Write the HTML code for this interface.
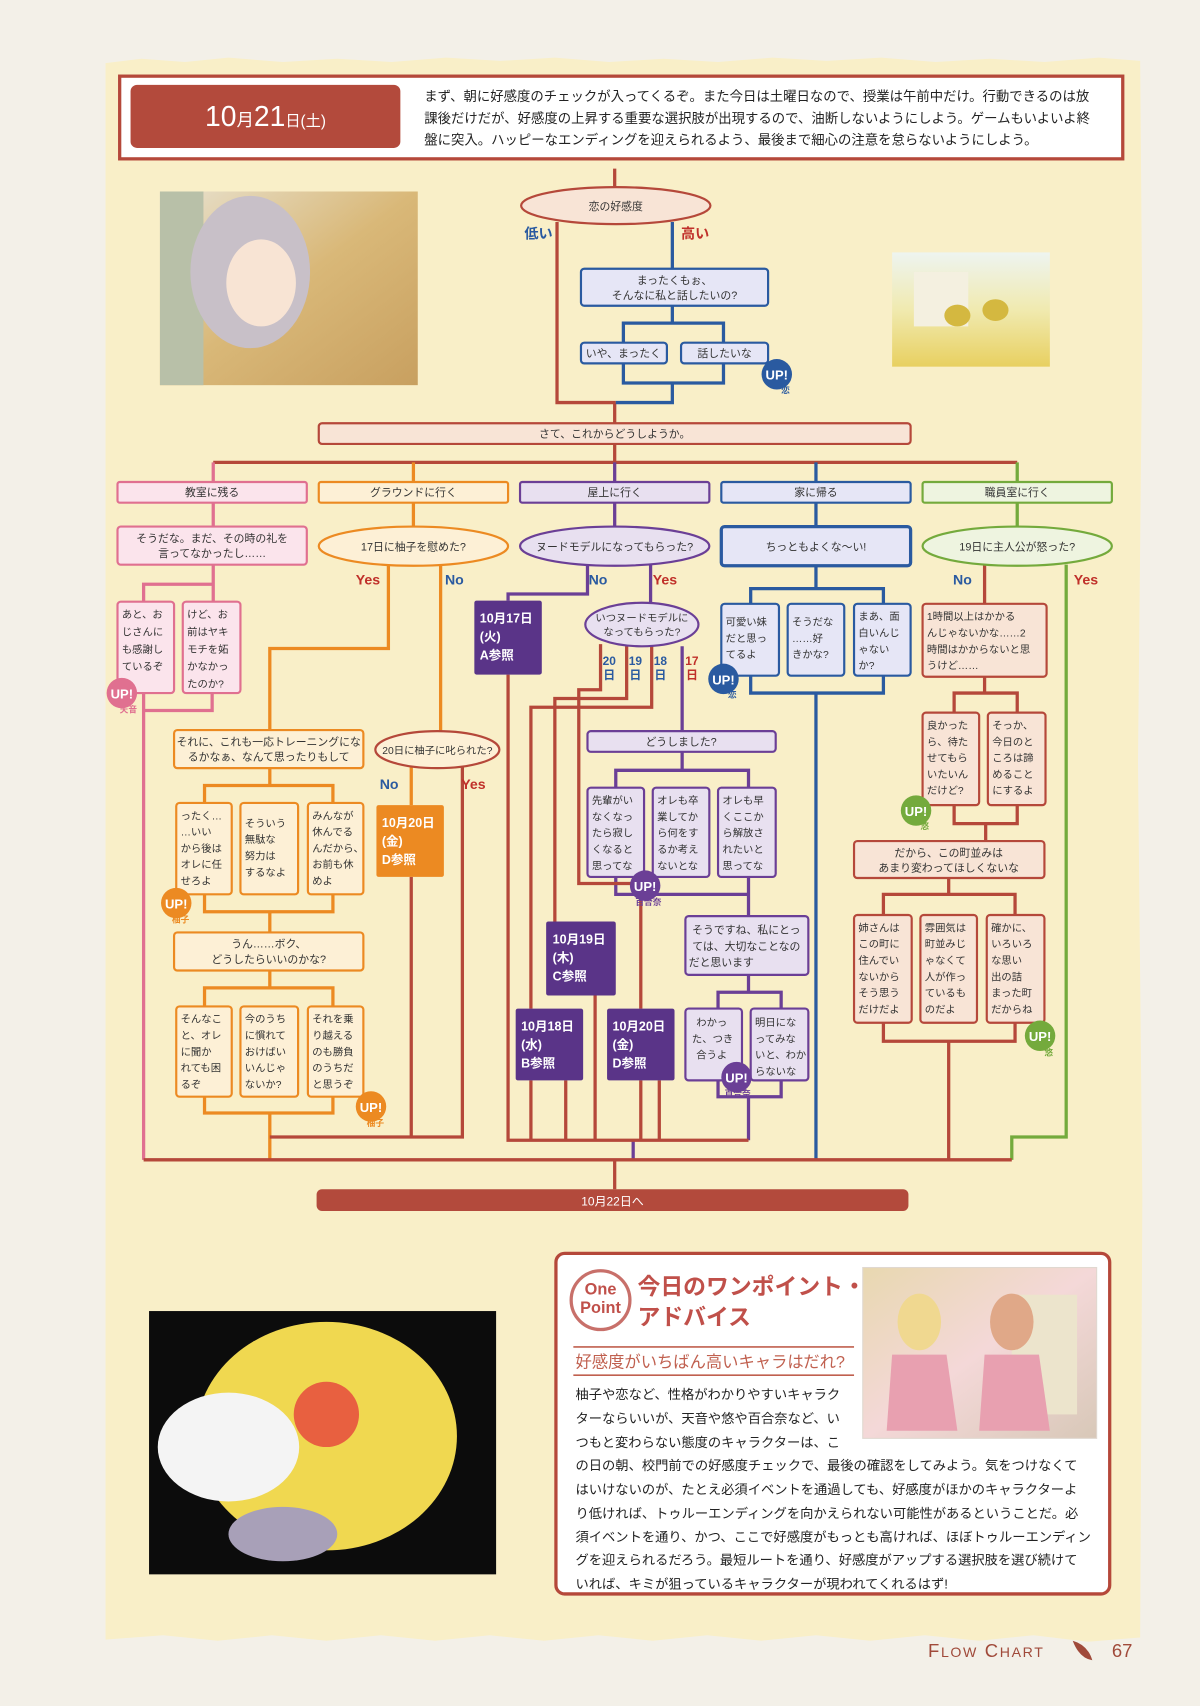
<!DOCTYPE html>
<html><head><meta charset="utf-8"><style>
html,body{margin:0;padding:0;background:#f3f0e8;}
svg{display:block;}
text{font-family:"Liberation Sans","Noto Sans CJK JP",sans-serif;}
</style></head><body>
<svg width="1200" height="1706" viewBox="0 0 1103 1568" preserveAspectRatio="none" xmlns="http://www.w3.org/2000/svg">
<defs>
<linearGradient id="g1" x1="0" y1="0" x2="1" y2="1"><stop offset="0" stop-color="#e8e2d0"/><stop offset="0.5" stop-color="#d9b878"/><stop offset="1" stop-color="#c8a060"/></linearGradient>
<linearGradient id="g2" x1="0" y1="0" x2="0" y2="1"><stop offset="0" stop-color="#eef4f0"/><stop offset="0.5" stop-color="#f0eab0"/><stop offset="1" stop-color="#e8d060"/></linearGradient>
<linearGradient id="g3" x1="0" y1="0" x2="1" y2="1"><stop offset="0" stop-color="#e8d8b0"/><stop offset="0.5" stop-color="#f4d8d8"/><stop offset="1" stop-color="#d8c8b8"/></linearGradient>
</defs>
<rect width="1103" height="1568" fill="#f3f0e8"/>
<path d="M97 58 L130 54 L170 57 L210 53 L260 57 L310 54 L360 57 L410 53 L460 56 L510 53 L560 57 L610 54 L660 57 L710 53 L760 56 L810 53 L860 57 L910 54 L960 57 L1010 53 L1048 56 L1050 300 L1046 700 L1050 1100 L1048 1505 L1000 1509 L950 1503 L900 1508 L850 1503 L800 1508 L750 1503 L700 1508 L650 1503 L600 1508 L550 1503 L500 1508 L450 1503 L400 1508 L350 1503 L300 1508 L250 1503 L200 1508 L150 1503 L97 1507 Z" fill="#f9efc8"/>
<rect x="110" y="70" width="922" height="76" fill="#fff" stroke="#b5483a" stroke-width="3"/>
<rect x="120" y="78" width="248" height="58" rx="6" fill="#b34a3c"/>
<text x="244" y="116" fill="#fff" text-anchor="middle"><tspan font-size="26">10</tspan><tspan font-size="16">月</tspan><tspan font-size="26">21</tspan><tspan font-size="14">日(土)</tspan></text>
<g font-size="12.3" fill="#222">
<text x="390" y="93">まず、朝に好感度のチェックが入ってくるぞ。また今日は土曜日なので、授業は午前中だけ。行動できるのは放</text>
<text x="390" y="113">課後だけだが、好感度の上昇する重要な選択肢が出現するので、油断しないようにしよう。ゲームもいよいよ終</text>
<text x="390" y="133">盤に突入。ハッピーなエンディングを迎えられるよう、最後まで細心の注意を怠らないようにしよう。</text>
</g>
<rect x="147" y="176" width="237" height="178" fill="url(#g1)"/>
<rect x="147" y="176" width="40" height="178" fill="#b8c0a8"/>
<ellipse cx="230" cy="250" rx="55" ry="70" fill="#c8c0c8"/>
<ellipse cx="240" cy="260" rx="32" ry="40" fill="#f8e4d4"/>
<rect x="820" y="232" width="145" height="105" fill="url(#g2)"/>
<rect x="840" y="250" width="50" height="50" fill="#f4f0e0"/>
<ellipse cx="880" cy="290" rx="12" ry="10" fill="#d4b840"/><ellipse cx="915" cy="285" rx="12" ry="10" fill="#d4b840"/>
<rect x="137" y="1205" width="319" height="242" fill="#0c0c0c"/>
<ellipse cx="300" cy="1320" rx="120" ry="105" fill="#f0d850"/>
<ellipse cx="210" cy="1330" rx="65" ry="50" fill="#f4f4f4"/>
<ellipse cx="300" cy="1300" rx="30" ry="30" fill="#e86040"/>
<ellipse cx="260" cy="1410" rx="50" ry="25" fill="#a8a0b8"/>
<g fill="none" stroke-width="3" stroke-linejoin="miter">
<path stroke="#b5483a" d="M565 155 V172 M512 204 V370 H566 M565 370 V389 M565 408 V425 M196 425 H935"/>
<path stroke="#2a5aa0" d="M618 204 V247 M618 281 V297 M573 315 V297 H665 V315 M573 334 V352 H665 V334 M618 352 V370 H566"/>
<path stroke="#e07090" d="M196 425 V443 M196 462 V484 M196 519 V537 M132 553 V537 H196 V553 M132 637 V1066 M195 637 V653 H132"/>
<path stroke="#ec8a22" d="M380 425 V443 M380 462 V484 M357 520 V596 H248 V671 M405 520 V672 M248 706 V722 M188 738 V722 H306 V738 M188 822 V838 H306 V822 M248 838 V857 M248 892 V908 M188 925 V908 H306 V925 M188 1008 V1023 H306 V1008 M248 1023 V1066 M378 705 V740"/>
<path stroke="#b5483a" d="M378 806 V1045 M425 704 V1045 H248"/>
<path stroke="#6b3f96" d="M565 425 V443 M565 462 V484 M540 519 V546 H467 V552 M598 519 V554 M627 594 V672 M627 691 V708 M566 724 V708 H688 V724 M566 806 V822 H688 V806 M688 822 V842 M688 896 V912 M660 927 V912 H718 V927 M660 993 V1008 H718 V993 M688 1008 V1048 M582 1048 V1066"/>
<path stroke="#b5483a" d="M467 620 V1048 H688 M599 594 V650 H488 V927 M576 594 V642 H510 V847 M552 592 V634 H532 V812 H589 V927 M488 993 V1048 M520 993 V1048 M547 915 V1048 M589 993 V1048 M606 993 V1048"/>
<path stroke="#2a5aa0" d="M750 425 V443 M750 462 V484 M750 520 V541 M690 555 V541 H812 V555 M690 621 V637 H812 V621 M750 637 V1066"/>
<path stroke="#74aa3c" d="M935 425 V443 M935 462 V484 M980 519 V1045 H930 V1066"/>
<path stroke="#b5483a" d="M905 519 V555 M905 622 V637 M877 655 V637 H935 V655 M877 740 V757 H935 V740 M906 757 V773 M872 807 V822 M812 841 V822 H933 V841 M812 940 V957 H933 V940 M872 957 V1066 M132 1066 H930 M565 1066 V1093"/>
</g>
<g font-size="10" fill="#333" text-anchor="middle">
<ellipse cx="566" cy="189" rx="87" ry="17" fill="#f8e4d6" stroke="#b5483a" stroke-width="2"/>
<text x="566" y="193">恋の好感度</text>
<rect x="534" y="247" width="172" height="34" rx="3" fill="#e6e6f6" stroke="#2a5aa0" stroke-width="2"/>
<text x="620" y="261">まったくもぉ、</text><text x="620" y="275">そんなに私と話したいの?</text>
<rect x="534" y="315" width="79" height="19" rx="3" fill="#e6e6f6" stroke="#2a5aa0" stroke-width="2"/><text x="573" y="328">いや、まったく</text>
<rect x="626" y="315" width="80" height="19" rx="3" fill="#e6e6f6" stroke="#2a5aa0" stroke-width="2"/><text x="666" y="328">話したいな</text>
<rect x="293" y="389" width="544" height="19" rx="3" fill="#f8e4d6" stroke="#b5483a" stroke-width="2"/><text x="565" y="402">さて、これからどうしようか。</text>
<rect x="108" y="443" width="174" height="19" rx="2" fill="#fbe4ec" stroke="#e07090" stroke-width="2"/><text x="195" y="456">教室に残る</text>
<rect x="293" y="443" width="174" height="19" rx="2" fill="#fdf0d6" stroke="#ec8a22" stroke-width="2"/><text x="380" y="456">グラウンドに行く</text>
<rect x="478" y="443" width="174" height="19" rx="2" fill="#e8e0f0" stroke="#6b3f96" stroke-width="2"/><text x="565" y="456">屋上に行く</text>
<rect x="663" y="443" width="174" height="19" rx="2" fill="#e6e6f6" stroke="#2a5aa0" stroke-width="2"/><text x="750" y="456">家に帰る</text>
<rect x="848" y="443" width="174" height="19" rx="2" fill="#eef4e0" stroke="#74aa3c" stroke-width="2"/><text x="935" y="456">職員室に行く</text>
<rect x="108" y="484" width="174" height="35" rx="3" fill="#fbe4ec" stroke="#e07090" stroke-width="2"/><text x="195" y="498">そうだな。まだ、その時の礼を</text><text x="195" y="512">言ってなかったし……</text>
<ellipse cx="380" cy="502" rx="87" ry="18" fill="#fdf0d6" stroke="#ec8a22" stroke-width="2"/><text x="380" y="506">17日に柚子を慰めた?</text>
<ellipse cx="565" cy="502" rx="87" ry="18" fill="#e8e0f0" stroke="#6b3f96" stroke-width="2"/><text x="565" y="506">ヌードモデルになってもらった?</text>
<rect x="663" y="484" width="174" height="36" rx="3" fill="#e6e6f6" stroke="#2a5aa0" stroke-width="3"/><text x="750" y="506">ちっともよくな〜い!</text>
<ellipse cx="935" cy="502" rx="87" ry="18" fill="#eef4e0" stroke="#74aa3c" stroke-width="2"/><text x="935" y="506">19日に主人公が怒った?</text>
<ellipse cx="590" cy="574" rx="52" ry="20" fill="#e8e0f0" stroke="#6b3f96" stroke-width="2"/><text x="590" y="571" font-size="9.5">いつヌードモデルに</text><text x="590" y="584" font-size="9.5">なってもらった?</text>
<ellipse cx="402" cy="689" rx="57" ry="17" fill="#fdf0d6" stroke="#b5483a" stroke-width="2"/><text x="402" y="693" font-size="9.5">20日に柚子に叱られた?</text>
<rect x="160" y="671" width="174" height="35" rx="3" fill="#fdf0d6" stroke="#ec8a22" stroke-width="2"/><text x="247" y="685">それに、これも一応トレーニングにな</text><text x="247" y="699">るかなぁ、なんて思ったりもして</text>
<rect x="160" y="857" width="174" height="35" rx="3" fill="#fdf0d6" stroke="#ec8a22" stroke-width="2"/><text x="247" y="871">うん……ボク、</text><text x="247" y="885">どうしたらいいのかな?</text>
<rect x="540" y="672" width="173" height="19" rx="3" fill="#e8e0f0" stroke="#6b3f96" stroke-width="2"/><text x="626" y="685">どうしました?</text>
<rect x="630" y="842" width="113" height="54" rx="3" fill="#e8e0f0" stroke="#6b3f96" stroke-width="2"/><text x="686" y="858">そうですね、私にとっ</text><text x="686" y="873">ては、大切なことなの</text><text x="663" y="888">だと思います</text>
<rect x="785" y="773" width="175" height="34" rx="3" fill="#f8e4d6" stroke="#b5483a" stroke-width="2"/><text x="872" y="787">だから、この町並みは</text><text x="872" y="801">あまり変わってほしくないな</text>
<rect x="848" y="555" width="114" height="67" rx="3" fill="#f8e4d6" stroke="#b5483a" stroke-width="2"/>
</g>
<g font-size="9.5" fill="#333">
<text x="852" y="570">1時間以上はかかる</text><text x="852" y="585">んじゃないかな……2</text><text x="852" y="600">時間はかからないと思</text><text x="852" y="615">うけど……</text>
</g>
<g font-size="9.5" fill="#333" stroke-width="2">
<rect x="108" y="553" width="52" height="84" rx="3" fill="#fbe4ec" stroke="#e07090"/>
<text x="112" y="568"><tspan x="112">あと、お</tspan><tspan x="112" dy="16">じさんに</tspan><tspan x="112" dy="16">も感謝し</tspan><tspan x="112" dy="16">ているぞ</tspan></text>
<rect x="168" y="553" width="53" height="84" rx="3" fill="#fbe4ec" stroke="#e07090"/>
<text x="172" y="568"><tspan x="172">けど、お</tspan><tspan x="172" dy="16">前はヤキ</tspan><tspan x="172" dy="16">モチを妬</tspan><tspan x="172" dy="16">かなかっ</tspan><tspan x="172" dy="16">たのか?</tspan></text>
<rect x="162" y="738" width="51" height="84" rx="3" fill="#fdf0d6" stroke="#ec8a22"/>
<text><tspan x="166" y="753">ったく…</tspan><tspan x="166" dy="15">…いい</tspan><tspan x="166" dy="15">から後は</tspan><tspan x="166" dy="15">オレに任</tspan><tspan x="166" dy="15">せろよ</tspan></text>
<rect x="221" y="738" width="53" height="84" rx="3" fill="#fdf0d6" stroke="#ec8a22"/>
<text><tspan x="225" y="760">そういう</tspan><tspan x="225" dy="15">無駄な</tspan><tspan x="225" dy="15">努力は</tspan><tspan x="225" dy="15">するなよ</tspan></text>
<rect x="283" y="738" width="51" height="84" rx="3" fill="#fdf0d6" stroke="#ec8a22"/>
<text><tspan x="287" y="753">みんなが</tspan><tspan x="287" dy="15">休んでる</tspan><tspan x="287" dy="15">んだから、</tspan><tspan x="287" dy="15">お前も休</tspan><tspan x="287" dy="15">めよ</tspan></text>
<rect x="162" y="925" width="51" height="83" rx="3" fill="#fdf0d6" stroke="#ec8a22"/>
<text><tspan x="166" y="940">そんなこ</tspan><tspan x="166" dy="15">と、オレ</tspan><tspan x="166" dy="15">に聞か</tspan><tspan x="166" dy="15">れても困</tspan><tspan x="166" dy="15">るぞ</tspan></text>
<rect x="221" y="925" width="53" height="83" rx="3" fill="#fdf0d6" stroke="#ec8a22"/>
<text><tspan x="225" y="940">今のうち</tspan><tspan x="225" dy="15">に慣れて</tspan><tspan x="225" dy="15">おけばい</tspan><tspan x="225" dy="15">いんじゃ</tspan><tspan x="225" dy="15">ないか?</tspan></text>
<rect x="283" y="925" width="51" height="83" rx="3" fill="#fdf0d6" stroke="#ec8a22"/>
<text><tspan x="287" y="940">それを乗</tspan><tspan x="287" dy="15">り越える</tspan><tspan x="287" dy="15">のも勝負</tspan><tspan x="287" dy="15">のうちだ</tspan><tspan x="287" dy="15">と思うぞ</tspan></text>
<rect x="540" y="724" width="52" height="82" rx="3" fill="#e8e0f0" stroke="#6b3f96"/>
<text><tspan x="544" y="739">先輩がい</tspan><tspan x="544" dy="15">なくなっ</tspan><tspan x="544" dy="15">たら寂し</tspan><tspan x="544" dy="15">くなると</tspan><tspan x="544" dy="15">思ってな</tspan></text>
<rect x="600" y="724" width="52" height="82" rx="3" fill="#e8e0f0" stroke="#6b3f96"/>
<text><tspan x="604" y="739">オレも卒</tspan><tspan x="604" dy="15">業してか</tspan><tspan x="604" dy="15">ら何をす</tspan><tspan x="604" dy="15">るか考え</tspan><tspan x="604" dy="15">ないとな</tspan></text>
<rect x="660" y="724" width="53" height="82" rx="3" fill="#e8e0f0" stroke="#6b3f96"/>
<text><tspan x="664" y="739">オレも早</tspan><tspan x="664" dy="15">くここか</tspan><tspan x="664" dy="15">ら解放さ</tspan><tspan x="664" dy="15">れたいと</tspan><tspan x="664" dy="15">思ってな</tspan></text>
<rect x="630" y="927" width="52" height="66" rx="3" fill="#e8e0f0" stroke="#6b3f96"/>
<text><tspan x="640" y="943">わかっ</tspan><tspan x="636" dy="15">た、つき</tspan><tspan x="640" dy="15">合うよ</tspan></text>
<rect x="690" y="927" width="53" height="66" rx="3" fill="#e8e0f0" stroke="#6b3f96"/>
<text><tspan x="694" y="943">明日にな</tspan><tspan x="694" dy="15">ってみな</tspan><tspan x="694" dy="15">いと、わか</tspan><tspan x="694" dy="15">らないな</tspan></text>
<rect x="663" y="555" width="53" height="66" rx="3" fill="#e6e6f6" stroke="#2a5aa0"/>
<text><tspan x="667" y="575">可愛い妹</tspan><tspan x="667" dy="15">だと思っ</tspan><tspan x="667" dy="15">てるよ</tspan></text>
<rect x="724" y="555" width="52" height="66" rx="3" fill="#e6e6f6" stroke="#2a5aa0"/>
<text><tspan x="728" y="575">そうだな</tspan><tspan x="728" dy="15">……好</tspan><tspan x="728" dy="15">きかな?</tspan></text>
<rect x="785" y="555" width="52" height="66" rx="3" fill="#e6e6f6" stroke="#2a5aa0"/>
<text><tspan x="789" y="570">まあ、面</tspan><tspan x="789" dy="15">白いんじ</tspan><tspan x="789" dy="15">ゃない</tspan><tspan x="789" dy="15">か?</tspan></text>
<rect x="848" y="655" width="52" height="85" rx="3" fill="#f8e4d6" stroke="#b5483a"/>
<text><tspan x="852" y="670">良かった</tspan><tspan x="852" dy="15">ら、待た</tspan><tspan x="852" dy="15">せてもら</tspan><tspan x="852" dy="15">いたいん</tspan><tspan x="852" dy="15">だけど?</tspan></text>
<rect x="908" y="655" width="53" height="85" rx="3" fill="#f8e4d6" stroke="#b5483a"/>
<text><tspan x="912" y="670">そっか、</tspan><tspan x="912" dy="15">今日のと</tspan><tspan x="912" dy="15">ころは諦</tspan><tspan x="912" dy="15">めること</tspan><tspan x="912" dy="15">にするよ</tspan></text>
<rect x="785" y="841" width="53" height="99" rx="3" fill="#f8e4d6" stroke="#b5483a"/>
<text><tspan x="789" y="856">姉さんは</tspan><tspan x="789" dy="15">この町に</tspan><tspan x="789" dy="15">住んでい</tspan><tspan x="789" dy="15">ないから</tspan><tspan x="789" dy="15">そう思う</tspan><tspan x="789" dy="15">だけだよ</tspan></text>
<rect x="846" y="841" width="52" height="99" rx="3" fill="#f8e4d6" stroke="#b5483a"/>
<text><tspan x="850" y="856">雰囲気は</tspan><tspan x="850" dy="15">町並みじ</tspan><tspan x="850" dy="15">ゃなくて</tspan><tspan x="850" dy="15">人が作っ</tspan><tspan x="850" dy="15">ているも</tspan><tspan x="850" dy="15">のだよ</tspan></text>
<rect x="907" y="841" width="53" height="99" rx="3" fill="#f8e4d6" stroke="#b5483a"/>
<text><tspan x="911" y="856">確かに、</tspan><tspan x="911" dy="15">いろいろ</tspan><tspan x="911" dy="15">な思い</tspan><tspan x="911" dy="15">出の詰</tspan><tspan x="911" dy="15">まった町</tspan><tspan x="911" dy="15">だからね</tspan></text>
</g>
<g font-size="11.5" font-weight="bold" fill="#fff">
<rect x="436" y="552" width="62" height="68" rx="2" fill="#5a3488"/>
<text><tspan x="441" y="572">10月17日</tspan><tspan x="441" dy="17">(火)</tspan><tspan x="441" dy="17">A参照</tspan></text>
<rect x="346" y="740" width="62" height="66" rx="2" fill="#ec8a22"/>
<text><tspan x="351" y="760">10月20日</tspan><tspan x="351" dy="17">(金)</tspan><tspan x="351" dy="17">D参照</tspan></text>
<rect x="502" y="847" width="64" height="68" rx="2" fill="#5a3488"/>
<text><tspan x="508" y="867">10月19日</tspan><tspan x="508" dy="17">(木)</tspan><tspan x="508" dy="17">C参照</tspan></text>
<rect x="474" y="927" width="62" height="66" rx="2" fill="#5a3488"/>
<text><tspan x="479" y="947">10月18日</tspan><tspan x="479" dy="17">(水)</tspan><tspan x="479" dy="17">B参照</tspan></text>
<rect x="558" y="927" width="62" height="66" rx="2" fill="#5a3488"/>
<text><tspan x="563" y="947">10月20日</tspan><tspan x="563" dy="17">(金)</tspan><tspan x="563" dy="17">D参照</tspan></text>
</g>
<g font-size="13" font-weight="bold">
<text x="482" y="219" fill="#2a5aa0">低い</text><text x="626" y="219" fill="#c0302a">高い</text>
<text x="327" y="537" fill="#c0302a">Yes</text><text x="409" y="537" fill="#2a5aa0">No</text>
<text x="541" y="537" fill="#2a5aa0">No</text><text x="600" y="537" fill="#c0302a">Yes</text>
<text x="876" y="537" fill="#2a5aa0">No</text><text x="987" y="537" fill="#c0302a">Yes</text>
<text x="349" y="725" fill="#2a5aa0">No</text><text x="424" y="725" fill="#c0302a">Yes</text>
</g>
<g font-size="11" font-weight="bold" text-anchor="middle">
<text x="560" y="611" fill="#2a5aa0">20</text><text x="560" y="624" fill="#2a5aa0">日</text>
<text x="584" y="611" fill="#2a5aa0">19</text><text x="584" y="624" fill="#2a5aa0">日</text>
<text x="607" y="611" fill="#2a5aa0">18</text><text x="607" y="624" fill="#2a5aa0">日</text>
<text x="636" y="611" fill="#c0302a">17</text><text x="636" y="624" fill="#c0302a">日</text>
</g>
<g font-weight="bold" text-anchor="middle">
<circle cx="714" cy="344" r="14" fill="#2a5aa0"/><text x="714" y="349" font-size="12" fill="#fff">UP!</text><text x="722" y="361" font-size="8" fill="#2a5aa0">恋</text>
<circle cx="112" cy="637" r="14" fill="#e07090"/><text x="112" y="642" font-size="12" fill="#fff">UP!</text><text x="118" y="655" font-size="8" fill="#e07090">天音</text>
<circle cx="162" cy="830" r="14" fill="#ec8a22"/><text x="162" y="835" font-size="12" fill="#fff">UP!</text><text x="166" y="848" font-size="8" fill="#ec8a22">柚子</text>
<circle cx="341" cy="1017" r="14" fill="#ec8a22"/><text x="341" y="1022" font-size="12" fill="#fff">UP!</text><text x="345" y="1035" font-size="8" fill="#ec8a22">柚子</text>
<circle cx="665" cy="624" r="14" fill="#2a5aa0"/><text x="665" y="629" font-size="12" fill="#fff">UP!</text><text x="673" y="641" font-size="8" fill="#2a5aa0">恋</text>
<circle cx="593" cy="814" r="14" fill="#6b3f96"/><text x="593" y="819" font-size="12" fill="#fff">UP!</text><text x="596" y="832" font-size="8" fill="#6b3f96">百合奈</text>
<circle cx="677" cy="990" r="14" fill="#6b3f96"/><text x="677" y="995" font-size="12" fill="#fff">UP!</text><text x="678" y="1008" font-size="8" fill="#6b3f96">百合奈</text>
<circle cx="842" cy="745" r="14" fill="#74aa3c"/><text x="842" y="750" font-size="12" fill="#fff">UP!</text><text x="850" y="762" font-size="8" fill="#74aa3c">悠</text>
<circle cx="956" cy="952" r="14" fill="#74aa3c"/><text x="956" y="957" font-size="12" fill="#fff">UP!</text><text x="964" y="970" font-size="8" fill="#74aa3c">悠</text>
</g>
<rect x="291" y="1093" width="544" height="20" rx="5" fill="#b34a3c"/>
<text x="563" y="1108" font-size="11" fill="#fff" text-anchor="middle">10月22日へ</text>
<rect x="511" y="1152" width="509" height="313" rx="8" fill="#fff" stroke="#b5483a" stroke-width="3"/>
<rect x="793" y="1165" width="215" height="157" fill="url(#g3)" stroke="#e0d8d0"/>
<rect x="930" y="1190" width="60" height="110" fill="#ece4cc"/>
<ellipse cx="845" cy="1215" rx="20" ry="26" fill="#f0d890"/>
<ellipse cx="930" cy="1215" rx="20" ry="26" fill="#e0a888"/>
<path d="M820 1245 L870 1245 L880 1315 L815 1315Z" fill="#e8a0b0"/>
<path d="M905 1245 L955 1245 L965 1315 L900 1315Z" fill="#e8a0b0"/>
<circle cx="552" cy="1195" r="27" fill="#fff" stroke="#c8706a" stroke-width="3"/>
<text x="552" y="1190" font-size="15" font-weight="bold" fill="#c0504a" text-anchor="middle">One</text>
<text x="552" y="1207" font-size="15" font-weight="bold" fill="#c0504a" text-anchor="middle">Point</text>
<text x="586" y="1190" font-size="21" font-weight="bold" fill="#c0504a">今日のワンポイント・</text>
<text x="586" y="1218" font-size="21" font-weight="bold" fill="#c0504a">アドバイス</text>
<line x1="527" y1="1238" x2="785" y2="1238" stroke="#c0604f" stroke-width="1.5"/>
<line x1="527" y1="1264" x2="785" y2="1264" stroke="#c0604f" stroke-width="1.5"/>
<text x="529" y="1257" font-size="15" fill="#c0604f">好感度がいちばん高いキャラはだれ?</text>
<g font-size="12.2" fill="#222">
<text x="529" y="1286">柚子や恋など、性格がわかりやすいキャラク</text>
<text x="529" y="1308">ターならいいが、天音や悠や百合奈など、い</text>
<text x="529" y="1330">つもと変わらない態度のキャラクターは、こ</text>
<text x="529" y="1351">の日の朝、校門前での好感度チェックで、最後の確認をしてみよう。気をつけなくて</text>
<text x="529" y="1373">はいけないのが、たとえ必須イベントを通過しても、好感度がほかのキャラクターよ</text>
<text x="529" y="1395">り低ければ、トゥルーエンディングを向かえられない可能性があるということだ。必</text>
<text x="529" y="1417">須イベントを通り、かつ、ここで好感度がもっとも高ければ、ほぼトゥルーエンディン</text>
<text x="529" y="1438">グを迎えられるだろう。最短ルートを通り、好感度がアップする選択肢を選び続けて</text>
<text x="529" y="1460">いれば、キミが狙っているキャラクターが現われてくれるはず!</text>
</g>
<text x="853" y="1523" font-size="17" fill="#a04a3a" letter-spacing="1.5">F<tspan font-size="13">LOW</tspan> C<tspan font-size="13">HART</tspan></text>
<path d="M986 1508 Q1000 1512 1004 1526 Q992 1524 986 1508Z" fill="#a04a3a"/>
<text x="1022" y="1523" font-size="17" fill="#a04a3a">67</text>
</svg>
</body></html>
